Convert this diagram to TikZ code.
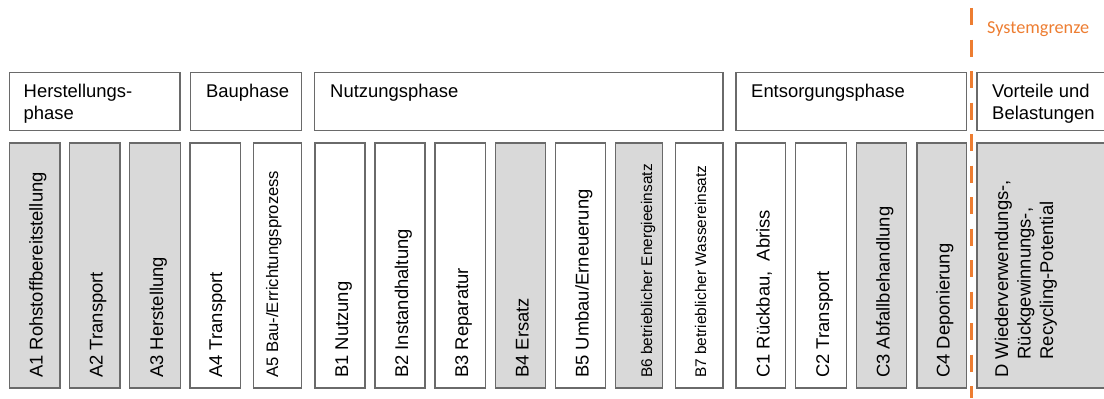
\documentclass[tikz,border=0pt]{standalone}
\usepackage{fontspec}
\setmainfont{Liberation Sans}
\newfontfamily\calibri{Carlito}
\definecolor{boxline}{HTML}{6A6A6A}
\definecolor{boxfill}{HTML}{D9D9D9}
\definecolor{sysorange}{HTML}{ED7D31}

\begin{document}
\begin{tikzpicture}[x=1bp,y=1bp]
        \tikzstyle{phase}=[rectangle,draw=boxline,line width=1.4bp,minimum height=58bp,inner sep=0pt]
        \tikzstyle{module}=[rectangle,draw=boxline,line width=1.4bp,minimum height=245bp,minimum width=50.5bp,inner sep=0pt]
        \tikzstyle{modgray}=[module,fill=boxfill]
        \tikzstyle{phasetext}=[anchor=base west,inner sep=0pt,align=left,font=\fontsize{18.5}{22}\selectfont]
        \tikzstyle{modtext}=[rotate=90,anchor=base west,inner sep=0pt,align=left,font=\fontsize{18.5}{22.5}\selectfont]
        \tikzstyle{midtext}=[modtext,font=\fontsize{16.7}{20}\selectfont]
        \tikzstyle{smalltext}=[modtext,font=\fontsize{15.5}{18}\selectfont]
        \tikzstyle{border}=[draw=sysorange,line width=3.5bp,dash pattern=on 17bp off 14.5bp]

        \useasboundingbox (0,0) rectangle (1104,398);

       \begin{scope}
         % phases
         \node [phase,minimum width=170.5bp] (herst) at (94.75,296.3) {};
         \node [phase,minimum width=110.6bp] (bau) at (246,296.3) {};
         \node [phase,minimum width=408.3bp] (nutz) at (518.65,296.3) {};
         \node [phase,minimum width=230.7bp] (ents) at (851.35,296.3) {};
         \node [phase,minimum width=128bp] (vort) at (1041,296.3) {};

         % base of a two-line label is its last line
         \node [phasetext] (herst-t) at (23.5,278.5) {Herstellungs-\\phase};
         \node [phasetext] (bau-t) at (206,300.5) {Bauphase};
         \node [phasetext] (nutz-t) at (330,300.5) {Nutzungsphase};
         \node [phasetext] (ents-t) at (751,300.5) {Entsorgungsphase};
         \node [phasetext] (vort-t) at (992,278.5) {Vorteile und\\Belastungen};
       \end{scope}

       \begin{scope}
         % modules
         \node [modgray] (a1) at (34.75,132.5) {};
         \node [modgray] (a2) at (94.75,132.5) {};
         \node [modgray] (a3) at (155,132.5) {};
         \node [module] (a4) at (215.25,132.5) {};
         \node [module,minimum width=48bp] (a5) at (277.5,132.5) {};
         \node [module,minimum width=50bp] (b1) at (340,132.5) {};
         \node [module,minimum width=50bp] (b2) at (400,132.5) {};
         \node [module] (b3) at (460.25,132.5) {};
         \node [modgray,minimum width=50bp] (b4) at (520.7,132.5) {};
         \node [module,minimum width=50bp] (b5) at (580.75,132.5) {};
         \node [modgray,minimum width=46.8bp] (b6) at (639.1,132.5) {};
         \node [module,minimum width=47.3bp] (b7) at (699.35,132.5) {};
         \node [module,minimum width=49.7bp] (c1) at (760.85,132.5) {};
         \node [module,minimum width=51bp] (c2) at (821,132.5) {};
         \node [modgray,minimum width=50bp] (c3) at (881.7,132.5) {};
         \node [modgray,minimum width=49.5bp] (c4) at (941.75,132.5) {};
         \node [modgray,minimum width=128bp] (d) at (1041,132.5) {};

         \node [modtext] (a1-t) at (42.7,20) {A1 Rohstoffbereitstellung};
         \node [modtext] (a2-t) at (102.7,20) {A2 Transport};
         \node [modtext] (a3-t) at (163,20) {A3 Herstellung};
         \node [modtext] (a4-t) at (222,20) {A4 Transport};
         \node [midtext] (a5-t) at (278,20) {A5 Bau-/Errichtungsprozess};
         \node [modtext] (b1-t) at (348,20) {B1 Nutzung};
         \node [modtext] (b2-t) at (408,20) {B2 Instandhaltung};
         \node [modtext] (b3-t) at (468,20) {B3 Reparatur};
         \node [modtext] (b4-t) at (528.7,20) {B4 Ersatz};
         \node [modtext] (b5-t) at (588.7,20) {B5 Umbau/Erneuerung};
         \node [smalltext] (b6-t) at (652,20) {B6 betrieblicher Energieeinsatz};
         \node [smalltext] (b7-t) at (706,20) {B7 betrieblicher Wassereinsatz};
         \node [modtext] (c1-t) at (769.5,20) {C1 Rückbau,\ \ Abriss};
         \node [modtext] (c2-t) at (829,20) {C2 Transport};
         \node [modtext] (c3-t) at (889.7,20) {C3 Abfallbehandlung};
         \node [modtext] (c4-t) at (949.7,20) {C4 Deponierung};
         \node [modtext] (d-t) at (1053,20) {D Wiederverwendungs-,\\\phantom{D }Rückgewinnungs-,\\\phantom{D }Recycling-Potential};
       \end{scope}

        % Systemgrenze
        \coordinate (sg-top) at (971.5,390);
        \coordinate (sg-bot) at (971.5,0);
        \path [border] (sg-top) -- (sg-bot);
        \node [anchor=base west,inner sep=0pt,text=sysorange,font=\calibri\fontsize{18.3}{22}\selectfont] (sg) at (987,365) {Systemgrenze};
      \end{tikzpicture}
\end{document}
